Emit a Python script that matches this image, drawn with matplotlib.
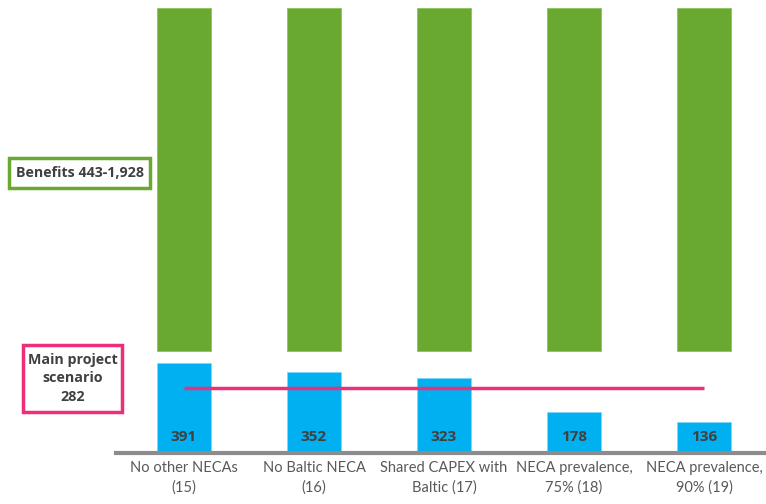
import matplotlib
matplotlib.use("Agg")
import matplotlib.pyplot as plt
from matplotlib.patches import Rectangle

categories = ["No other NECAs\n(15)", "No Baltic NECA\n(16)", "Shared CAPEX with\nBaltic (17)",
              "NECA prevalence,\n75% (18)", "NECA prevalence,\n90% (19)"]
costs = [391, 352, 323, 178, 136]
benefit_low = 443
benefit_high = 1928
main_scenario = 282

BLUE = "#00b0f0"
GREEN = "#6aa92f"
PINK = "#ec2f7b"
TEXT = "#404040"
LABEL = "#595959"
FONT = ["Open Sans", "DejaVu Sans"]
NARROW = ["Lato", "DejaVu Sans"]

fig = plt.figure(figsize=(7.66, 5.04), dpi=100)
W, H = 766, 504
ax = fig.add_axes([116 / W, 1 - 453 / H, (766 - 116) / W, (453 - 8) / H])

x = list(range(len(categories)))
width = 0.41

# floating benefit range bars
ax.bar(x, [benefit_high - benefit_low] * len(x), bottom=benefit_low, width=width,
       color=GREEN, edgecolor="#8cc35a", linewidth=0.6, zorder=2)
# cost bars
ax.bar(x, costs, width=width, color=BLUE, edgecolor="#7fd6f7", linewidth=0.6, zorder=2)
for xi, v in zip(x, costs):
    ax.text(xi, 68, f"{v}", ha="center", va="center", fontsize=11, fontweight="bold",
            color=TEXT, family=FONT, zorder=4)

# main project scenario line
ax.plot([x[0], x[-1]], [main_scenario, main_scenario], color=PINK, linewidth=2.5, zorder=3,
        solid_capstyle="butt")

ax.set_xlim(-0.523, 4.477)
ax.set_ylim(0, benefit_high)
ax.set_yticks([])
ax.set_xticks(x)
ax.set_xticklabels(categories, fontsize=10.5, color=LABEL, family=NARROW, linespacing=1.45)
ax.tick_params(axis="x", length=0, pad=6)
for s in ["top", "right", "left"]:
    ax.spines[s].set_visible(False)
ax.spines["bottom"].set_color("#8c8c8c")
ax.spines["bottom"].set_linewidth(3)


def boxed_label(x0, y0, x1, y1, text, color):
    fig.patches.append(Rectangle((x0 / W, 1 - y1 / H), (x1 - x0) / W, (y1 - y0) / H,
                                 transform=fig.transFigure, facecolor="white",
                                 edgecolor=color, linewidth=2.5, zorder=5))
    fig.text((x0 + x1) / 2 / W, 1 - (y0 + y1) / 2 / H, text, ha="center", va="center",
             fontsize=10.3, fontweight="bold", color=TEXT, family=FONT, linespacing=1.45,
             zorder=6)


boxed_label(9, 158, 150, 188, f"Benefits {benefit_low}-{benefit_high:,}", GREEN)
boxed_label(23, 345, 122, 412, f"Main project\nscenario\n{main_scenario}", PINK)

fig.savefig("out.png", dpi=100)
